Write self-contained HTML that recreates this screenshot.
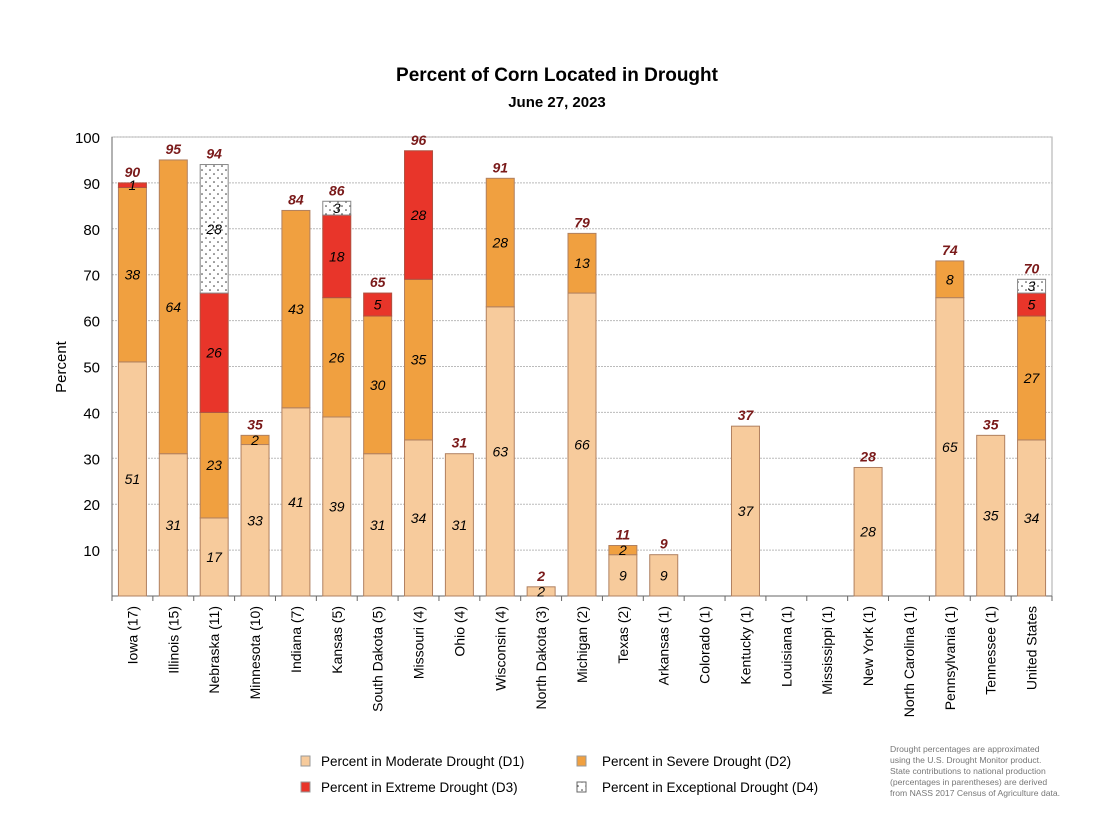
<!DOCTYPE html>
<html><head><meta charset="utf-8"><style>
body{margin:0;background:#fff;}
svg{display:block;font-family:"Liberation Sans",Arial,sans-serif;}
</style></head><body>
<svg id="c" width="1116" height="828" viewBox="0 0 1116 828">
<defs>
<pattern id="dots" width="8" height="8" patternUnits="userSpaceOnUse"><rect width="8" height="8" fill="#fff"/><circle cx="2" cy="2" r="0.8" fill="#333"/><circle cx="6" cy="6" r="0.8" fill="#333"/></pattern>
</defs>
<text x="557" y="81" text-anchor="middle" font-size="19" font-weight="bold">Percent of Corn Located in Drought</text>
<text x="557" y="107" text-anchor="middle" font-size="15" font-weight="bold">June 27, 2023</text>
<text transform="translate(66,367) rotate(-90)" text-anchor="middle" font-size="15">Percent</text>
<g id="grid"></g><g id="bars"></g><g id="xl"></g>
<g font-family="Liberation Sans, sans-serif" font-size="13.5">
<rect x="301" y="756" width="9" height="10" fill="#f7cb9c" stroke="#999"/>
<text x="321" y="766">Percent in Moderate Drought (D1)</text>
<rect x="577" y="756" width="9" height="10" fill="#f0a040" stroke="#999"/>
<text x="602" y="766">Percent in Severe Drought (D2)</text>
<rect x="301" y="782" width="9" height="10" fill="#e8352a" stroke="#999"/>
<text x="321" y="792">Percent in Extreme Drought (D3)</text>
<rect x="577" y="782" width="9" height="10" fill="url(#dots)" stroke="#666"/>
<text x="602" y="792">Percent in Exceptional Drought (D4)</text>
</g>
<g font-size="8.6" fill="#777">
<text x="890" y="752">Drought percentages are approximated</text>
<text x="890" y="763">using the U.S. Drought Monitor product.</text>
<text x="890" y="774">State contributions to national production</text>
<text x="890" y="785">(percentages in parentheses) are derived</text>
<text x="890" y="796">from NASS 2017 Census of Agriculture data.</text>
</g>
</svg>
<script>
const categories=["Iowa (17)","Illinois (15)","Nebraska (11)","Minnesota (10)","Indiana (7)","Kansas (5)","South Dakota (5)","Missouri (4)","Ohio (4)","Wisconsin (4)","North Dakota (3)","Michigan (2)","Texas (2)","Arkansas (1)","Colorado (1)","Kentucky (1)","Louisiana (1)","Mississippi (1)","New York (1)","North Carolina (1)","Pennsylvania (1)","Tennessee (1)","United States"];
const d1=[51,31,17,33,41,39,31,34,31,63,2,66,9,9,0,37,0,0,28,0,65,35,34];
const d2=[38,64,23,2,43,26,30,35,0,28,0,13,2,0,0,0,0,0,0,0,8,0,27];
const d3=[1,0,26,0,0,18,5,28,0,0,0,0,0,0,0,0,0,0,0,0,0,0,5];
const d4=[0,0,28,0,0,3,0,0,0,0,0,0,0,0,0,0,0,0,0,0,0,0,3];
const totals=[90,95,94,35,84,86,65,96,31,91,2,79,11,9,0,37,0,0,28,0,74,35,70];
const yTicks=[10,20,30,40,50,60,70,80,90,100];
</script>
<script>
const NS="http://www.w3.org/2000/svg";
const L=112,R=1052,T=137,B=596;
const n=categories.length;
const step=(R-L)/n;
const y=v=>B-(B-T)*v/100;
const xc=i=>L+step*(i+0.5);
function mk(tag,at,parent,txt){const e=document.createElementNS(NS,tag);for(const k in at)e.setAttribute(k,at[k]);if(txt!==undefined)e.textContent=txt;parent.appendChild(e);return e;}
const grid=document.getElementById('grid'),bars=document.getElementById('bars'),xl=document.getElementById('xl');
const bg=mk('rect',{x:L,y:T,width:R-L,height:B-T,fill:'#fff',stroke:'#aaa'},grid);


yTicks.forEach(t=>{
  const g=mk('line',{x1:L,x2:R,y1:y(t),y2:y(t),stroke:'#bbb','stroke-dasharray':'2,1'},grid);
  
  
  const tl=mk('text',{x:L-12,y:y(t)+6,'text-anchor':'end','font-size':15},grid,String(t));
  
  
});
mk('line',{x1:L,x2:L,y1:T,y2:B,stroke:'#666'},grid);
mk('line',{x1:L,x2:R,y1:B,y2:B,stroke:'#666'},grid);
for(let i=0;i<=n;i++) mk('line',{x1:L+step*i,x2:L+step*i,y1:B,y2:B+5,stroke:'#666'},grid);
const series=[[d1,'#f7cb9c','#b08060','d1'],[d2,'#f0a040','#b08060','d2'],[d3,'#e8352a','#b05040','d3'],[d4,'url(#dots)','#888','d4']];
const bw=28;
categories.forEach((c,i)=>{
  let base=0;
  series.forEach(([arr,fill,st,nm])=>{
    const v=arr[i]; if(!v) return;
    const r=mk('rect',{x:xc(i)-bw/2,y:y(base+v),width:bw,height:y(base)-y(base+v),fill:fill,stroke:st,'stroke-width':1},bars);
    
    
    const lb=mk('text',{x:xc(i),y:(y(base)+y(base+v))/2+5,'text-anchor':'middle','font-size':14,'font-style':'italic'},bars,String(v));
    
    
    base+=v;
  });
  if(totals[i]){
    const tt=mk('text',{x:xc(i),y:y(base)-6,'text-anchor':'middle','font-size':14,'font-style':'italic','font-weight':'bold',fill:'#7a1a1a'},bars,String(totals[i]));
    
    
  }
  const xt=mk('text',{transform:`translate(${xc(i)+5},${B+10}) rotate(-90)`,'text-anchor':'end','font-size':14},xl,c);
  
  
});
</script>
</body></html>
